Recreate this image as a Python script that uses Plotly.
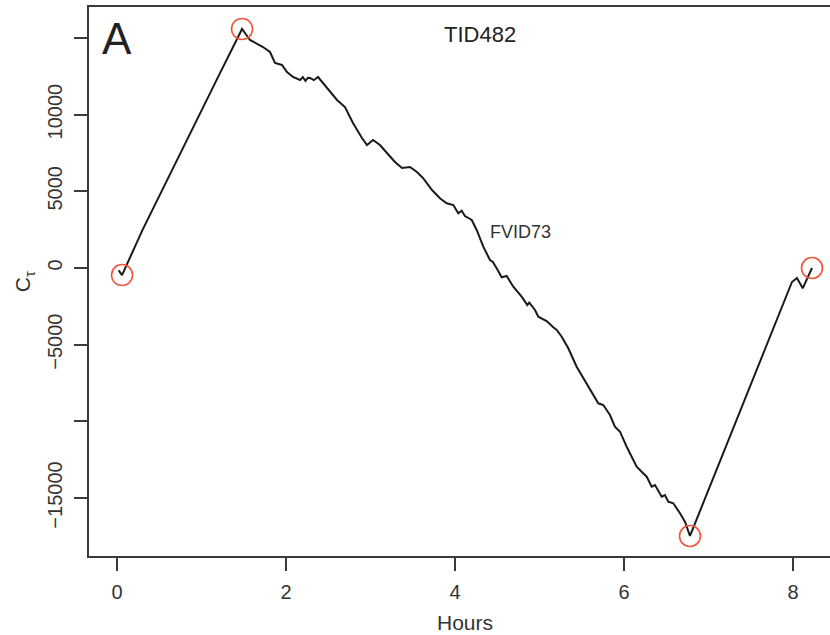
import plotly.graph_objects as go

# Curve C_tau vs hours
hours = [0.02, 0.06, 0.30, 0.60, 0.90, 1.20, 1.48,
         1.574, 1.728, 1.811, 1.870, 1.953, 2.012, 2.083, 2.166, 2.200, 2.230, 2.260, 2.284, 2.330,
         2.379, 2.426, 2.521, 2.604, 2.698, 2.793, 2.899, 2.959, 3.030, 3.112, 3.195,
         3.290, 3.373, 3.467, 3.550, 3.621, 3.728,
         3.822, 3.902, 3.980, 4.039, 4.079, 4.118, 4.198, 4.257, 4.335, 4.414, 4.446,
         4.493, 4.553, 4.612, 4.690, 4.789, 4.856, 4.879, 4.947, 4.986, 5.085, 5.163,
         5.204, 5.263, 5.341, 5.440, 5.518, 5.598, 5.696, 5.755, 5.834, 5.893, 5.953,
         6.032, 6.150, 6.209, 6.269, 6.328, 6.367, 6.446, 6.485, 6.524, 6.584, 6.663,
         6.722, 6.781,
         7.988, 8.047, 8.115, 8.225]
ctau = [-150, -460, 2450, 5800, 9250, 12500, 15590,
        14870, 14413, 14087, 13370, 13240, 12783, 12457, 12261, 12450, 12200, 12400, 12392, 12250,
        12457, 12130, 11478, 10957, 10500, 9457, 8479, 8022, 8348, 8022, 7500,
        6913, 6522, 6587, 6261, 5870, 5087,
        4546, 4220, 4109, 3568, 3737, 3391, 3130, 2478, 1389, 522, 411,
        -20, -607, -522, -1220, -1872, -2413, -2263, -2739, -3176, -3457, -3868,
        -4044, -4481, -5237, -6437, -7194, -7957, -8824, -8935, -9587, -10350, -10677,
        -11655, -12960, -13285, -13611, -14263, -14153, -14916, -14805, -15242, -15346, -15999,
        -16546, -17478,
        -913, -652, -1326, 0]

# Circled extremes
circ_hours = [0.06, 1.48, 6.781, 8.225]
circ_ctau = [-460, 15590, -17478, 0]

x_ticks = [0, 2, 4, 6, 8]
x_ticktext = ["0", "2", "4", "6", "8"]
y_ticks = [-15000, -5000, 0, 5000, 10000]
y_ticktext = ["\u221215000", "\u22125000", "0", "5000", "10000"]
y_unlabeled_ticks = [-10000, 15000]

panel_label = "A"
top_label = "TID482"
mid_label = "FVID73"

FONT = "Liberation Sans, Arial, sans-serif"
AX = "#3a3a3a"

fig = go.Figure()
fig.add_trace(go.Scatter(x=hours, y=ctau, mode="lines",
                         line=dict(color="#1a1a1a", width=2), showlegend=False))
fig.add_trace(go.Scatter(x=circ_hours, y=circ_ctau, mode="markers",
                         marker=dict(symbol="circle-open", size=21,
                                     line=dict(color="#ee2a24", width=1.6)),
                         showlegend=False))

fig.update_layout(
    width=830, height=635,
    margin=dict(l=89, r=0, t=7, b=79),
    paper_bgcolor="white", plot_bgcolor="white",
    font=dict(family=FONT, color="#333333", size=20),
    xaxis=dict(range=[-0.331, 8.438], tickvals=x_ticks, ticktext=x_ticktext,
               showgrid=False, zeroline=False, showline=True, linecolor=AX,
               linewidth=2, mirror=True, ticks="outside", ticklen=13,
               tickwidth=1.5, tickcolor=AX, tickfont=dict(size=20, color="#333333"),
               ticklabelstandoff=4),
    yaxis=dict(range=[-18783, 17022], tickvals=y_ticks, ticktext=y_ticktext,
               showgrid=False, zeroline=False, showline=True, linecolor=AX,
               linewidth=2, mirror=False, ticks="outside", ticklen=13,
               tickwidth=1.5, tickcolor=AX, tickangle=-90,
               tickfont=dict(size=20, color="#333333"), ticklabelstandoff=4,
               minor=dict(tickvals=y_unlabeled_ticks, ticks="outside", ticklen=13,
                          tickwidth=1.5, tickcolor=AX, showgrid=False)),
    annotations=[
        dict(text=panel_label, xref="paper", yref="paper", x=0.038, y=0.942,
             showarrow=False, xanchor="center", yanchor="middle",
             font=dict(size=44, color="#222222", family=FONT)),
        dict(text=top_label, xref="paper", yref="paper", x=0.528, y=0.949,
             showarrow=False, xanchor="center", yanchor="middle",
             font=dict(size=22, color="#222222", family=FONT)),
        dict(text=mid_label, xref="paper", yref="paper", x=0.582, y=0.590,
             showarrow=False, xanchor="center", yanchor="middle",
             font=dict(size=18, color="#333333", family=FONT)),
        dict(text="Hours", xref="paper", yref="paper", x=0.507, y=-0.122,
             showarrow=False, xanchor="center", yanchor="middle",
             font=dict(size=21, color="#333333", family=FONT)),
        dict(text="C<sub>\u03c4</sub>", xref="paper", yref="paper", x=-0.088, y=0.5,
             showarrow=False, xanchor="center", yanchor="middle", textangle=-90,
             font=dict(size=21, color="#333333", family=FONT)),
    ],
)

fig.write_html("out.html")
